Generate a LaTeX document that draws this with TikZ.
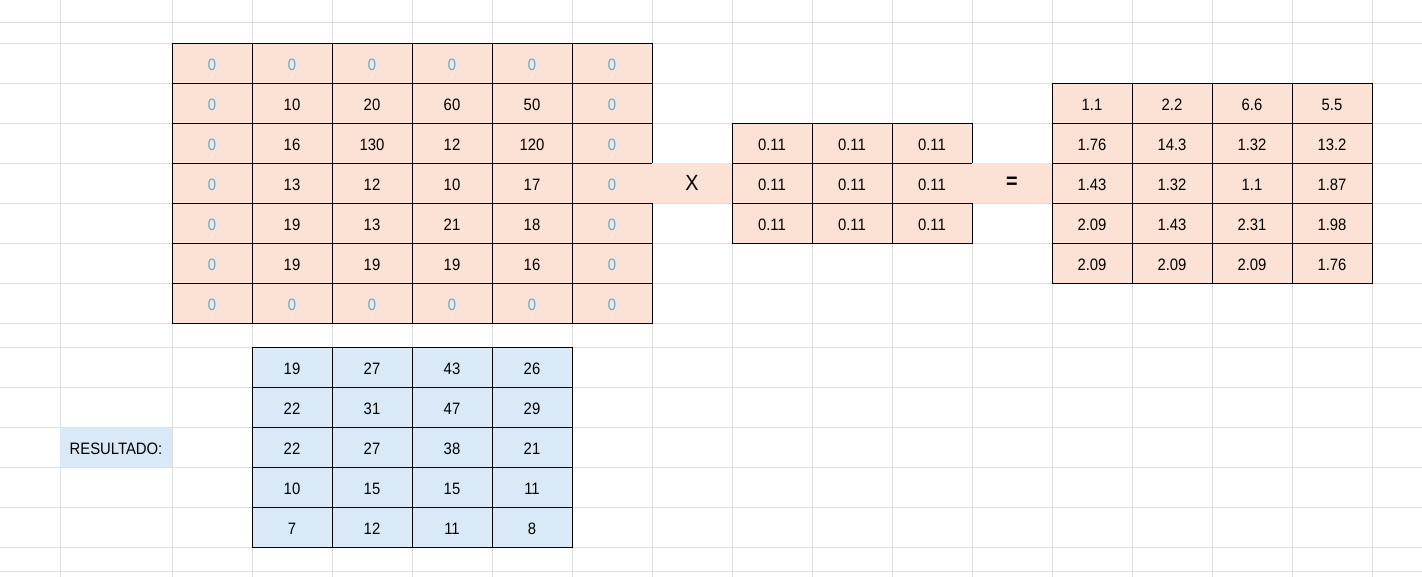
\documentclass[tikz,border=0pt]{standalone}
\usepackage{fontspec}
\setmainfont{Liberation Sans}[FakeStretch=0.9]
\usetikzlibrary{positioning}
\definecolor{peach}{HTML}{FBE2D5}
\definecolor{sky}{HTML}{DAE9F8}
\definecolor{zeroblue}{HTML}{52B0E2}
\definecolor{sheetgray}{HTML}{DEDEDE}

\begin{document}
\begin{tikzpicture}[x=1pt,y=-1pt,
  cell/.style={draw=black, line width=0.8pt, minimum width=80pt, minimum height=40pt, inner sep=0pt, text height=14.5pt, text depth=0pt, font=\fontsize{16.5}{18}\selectfont},
  pad0/.style={cell, fill=peach},
  pad1/.style={cell, fill=peach, text=zeroblue},
  kcell/.style={cell, fill=peach},
  rescell/.style={cell, fill=sky},
  sign/.style={fill=peach, minimum width=80pt, minimum height=40pt, inner sep=0pt, font=\fontsize{22}{24}\selectfont}]

	\useasboundingbox (0,0) rectangle (1422,577);
	
	% sheet grid
	\foreach \y in {22,43,83,123,163,203,243,283,323,347,387,427,467,507,547,571}
	\draw [sheetgray, line width=0.8pt] (0,\y) -- (1422,\y);
	\foreach \x in {60,172,252,332,412,492,572,652,732,812,892,972,1052,1132,1212,1292,1372}
	\draw [sheetgray, line width=0.8pt] (\x,0) -- (\x,577);
	
	% padded input
	\foreach \row [count=\r] in {{0,0,0,0,0,0},{0,10,20,60,50,0},{0,16,130,12,120,0},{0,13,12,10,17,0},{0,19,13,21,18,0},{0,19,19,19,16,0},{0,0,0,0,0,0}}
	\foreach \v [count=\c] in \row {
		\pgfmathtruncatemacro\edge{or(or(\r==1,\r==7),or(\c==1,\c==6))}
		\node (pad-\r-\c) [pad\edge] at (132+80*\c,23+40*\r) {\v};
	}
	
	% kernel
	\foreach \r in {1,2,3}
	\foreach \c in {1,2,3}
	\node (k-\r-\c) [kcell] at (692+80*\c,103+40*\r) {0.11};
	
	% convolution output
	\foreach \row [count=\r] in {{1.1,2.2,6.6,5.5},{1.76,14.3,1.32,13.2},{1.43,1.32,1.1,1.87},{2.09,1.43,2.31,1.98},{2.09,2.09,2.09,1.76}}
	\foreach \v [count=\c] in \row
	\node (out-\r-\c) [kcell] at (1012+80*\c,63+40*\r) {\v};
	
	\node (times) [sign] at (692,183) {X};
	\node (equals) [sign] at (1012,183) {\bfseries =};
	
	% result
	\node (label) [fill=sky, minimum width=112pt, minimum height=40pt, inner sep=0pt, text height=14.5pt, text depth=0pt, font=\fontsize{16.5}{18}\selectfont] at (116,447) {RESULTADO:};
	\foreach \row [count=\r] in {{19,27,43,26},{22,31,47,29},{22,27,38,21},{10,15,15,11},{7,12,11,8}}
	\foreach \v [count=\c] in \row
	\node (res-\r-\c) [rescell] at (212+80*\c,327+40*\r) {\v};
\end{tikzpicture}
\end{document}
